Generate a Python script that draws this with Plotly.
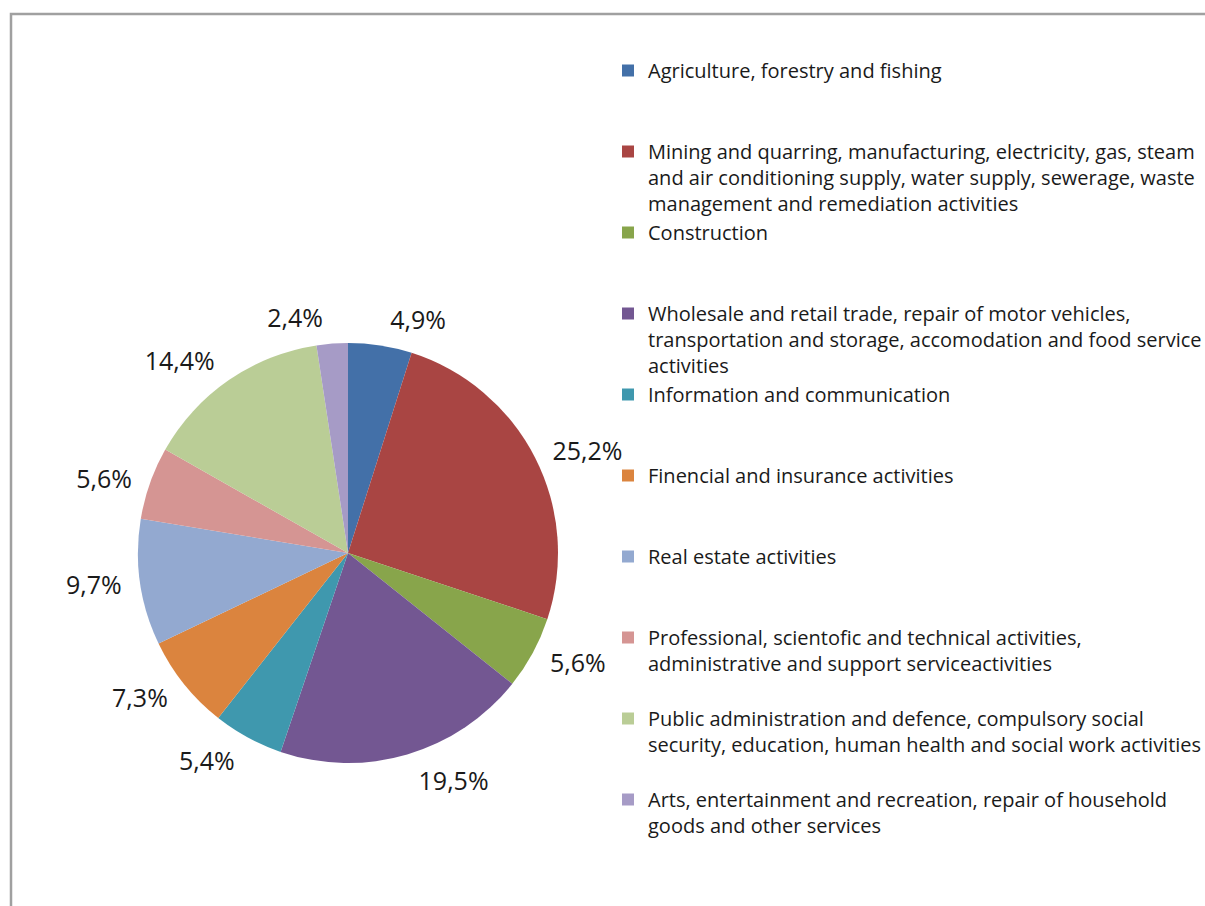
import plotly.graph_objects as go

categories = [
    "Agriculture, forestry and fishing",
    "Mining and quarring, manufacturing, electricity, gas, steam<br>and air conditioning supply, water supply, sewerage, waste<br>management and remediation activities",
    "Construction",
    "Wholesale and retail trade, repair of motor vehicles,<br>transportation and storage, accomodation and food service<br>activities",
    "Information and communication",
    "Finencial and insurance activities",
    "Real estate activities",
    "Professional, scientofic and technical activities,<br>administrative and support serviceactivities",
    "Public administration and defence, compulsory social<br>security, education, human health and social work activities",
    "Arts, entertainment and recreation, repair of household<br>goods and other services",
]
shares = [4.9, 25.2, 5.6, 19.5, 5.4, 7.3, 9.7, 5.6, 14.4, 2.4]
colors = ["#4370A8", "#A94543", "#88A54B", "#735792", "#3F98AE",
          "#DB843E", "#93A9D0", "#D59593", "#BACD96", "#A69BC6"]

# pad legend entries to equal height (3 lines)
legend_labels = []
for c in categories:
    n = c.count("<br>") + 1
    legend_labels.append(c + "<br> " * (3 - n))

W, H = 1205, 906
cx, cy, r = 348, 553, 210
r_lab = r + 10  # labels sit a bit further out than plotly's default


def dom(rad):
    return dict(x=[(cx - rad) / W, (cx + rad) / W],
                y=[1 - (cy + rad) / H, 1 - (cy - rad) / H])


fig = go.Figure()
# visible pie
fig.add_trace(go.Pie(
    labels=legend_labels,
    values=shares,
    sort=False,
    direction="clockwise",
    rotation=0,
    marker=dict(colors=colors, line=dict(width=0)),
    textinfo="none",
    hoverinfo="label+value",
    domain=dom(r),
))
# transparent ring carrying the outside percentage labels
fig.add_trace(go.Pie(
    labels=legend_labels,
    values=shares,
    sort=False,
    direction="clockwise",
    rotation=0,
    marker=dict(colors=["rgba(0,0,0,0)"] * len(shares), line=dict(width=0)),
    textposition="outside",
    texttemplate="%{value:.1f}%",
    textfont=dict(size=25, color="#1a1a1a", family="Open Sans"),
    hoverinfo="skip",
    showlegend=False,
    domain=dom(r_lab),
))

fig.update_layout(
    width=W, height=H,
    margin=dict(l=0, r=0, t=0, b=0, autoexpand=False),
    paper_bgcolor="white",
    separators=", ",
    font=dict(family="Open Sans", size=20, color="#1a1a1a"),
    legend=dict(
        x=608 / W, xanchor="left",
        y=1 - 51 / H, yanchor="top",
        valign="top",
        font=dict(size=20, family="Open Sans", color="#1a1a1a"),
        bgcolor="rgba(0,0,0,0)",
        itemclick=False,
    ),
    shapes=[dict(type="rect", xref="paper", yref="paper",
                 x0=11 / W, x1=1.05, y0=-0.05, y1=1 - 14 / H,
                 line=dict(color="#a0a0a0", width=2.5), fillcolor="rgba(0,0,0,0)")],
)

fig.write_html("out.html",
               config={"displayModeBar": False},
               post_script="document.body.style.margin='0';document.body.style.overflow='hidden';")
